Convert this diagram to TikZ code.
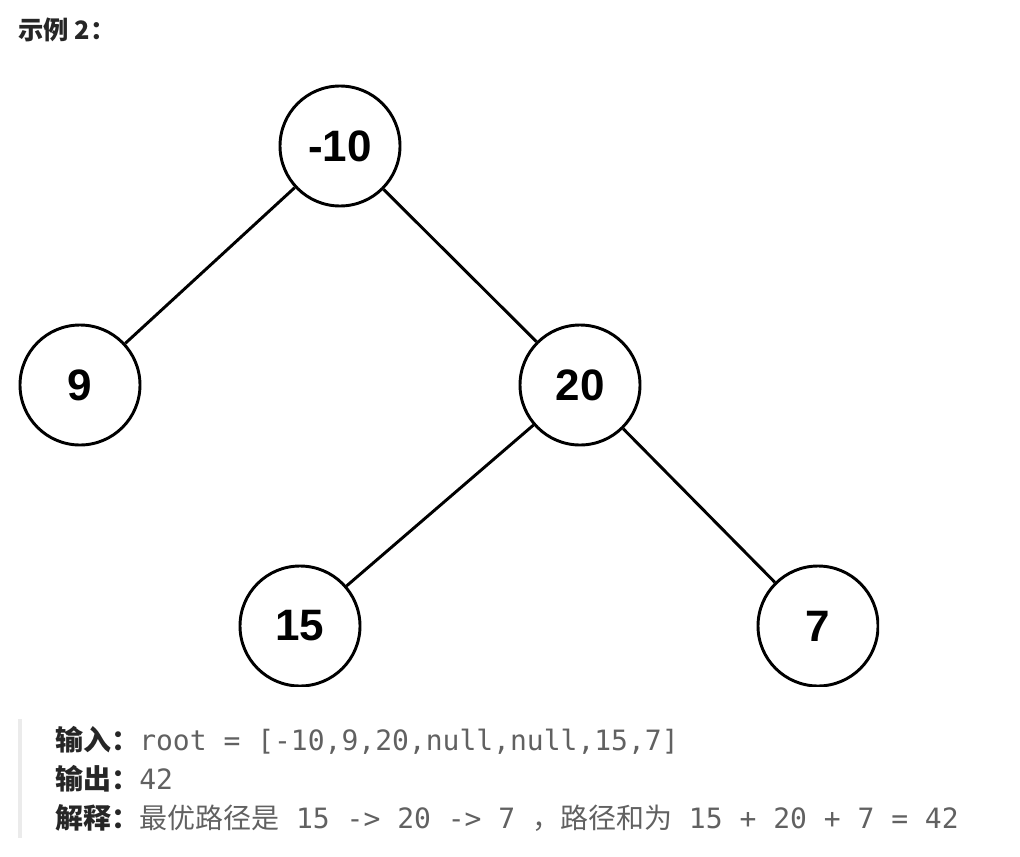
\documentclass[tikz,border=0pt]{standalone}
\usepackage{fontspec}
\setmainfont{Liberation Sans}
\newfontfamily\cjk{Noto Sans CJK SC}
\newfontfamily\monof{DejaVu Sans Mono}
\definecolor{lab}{HTML}{262626}
\definecolor{txt}{HTML}{616161}
\definecolor{bar}{HTML}{EBEBEB}
\begin{document}
\begin{tikzpicture}[x=0.75pt,y=-0.75pt,
  tn/.style={circle,draw=black,line width=2.2pt,minimum size=90pt,inner sep=0pt,
    font=\fontsize{33}{36}\selectfont\bfseries},
  edge/.style={draw=black,line width=2.2pt},
  txtline/.style={anchor=base west,inner sep=0pt,font=\fontsize{21}{24}\selectfont}]
\useasboundingbox (0,0) rectangle (1020,856);
\node[anchor=base west,inner sep=0pt,text=lab,font=\fontsize{19}{22}\selectfont] (title) at (18,40) {\cjk\bfseries 示例 2：};
\begin{scope}
\clip (0,0) rectangle (879,686);
\node[tn] (r) at (340,146) {-10};
\node[tn] (n9) at (80,385) {9};
\node[tn] (n20) at (580,385) {20};
\node[tn] (n15) at (300,626) {15};
\node[tn] (n7) at (818,626) {7};
\draw[edge] (r) -- (n9);
\draw[edge] (r) -- (n20);
\draw[edge] (n20) -- (n15);
\draw[edge] (n20) -- (n7);
\end{scope}
\fill[bar] (18,719) rectangle (22,838);
\node[txtline] (l1) at (55,750) {\textcolor{lab}{\cjk\bfseries 输入：}\textcolor{txt}{\monof root = [-10,9,20,null,null,15,7]}};
\node[txtline] (l2) at (55,789) {\textcolor{lab}{\cjk\bfseries 输出：}\textcolor{txt}{\monof 42}};
\node[txtline] (l3) at (55,828) {\textcolor{lab}{\cjk\bfseries 解释：}\textcolor{txt}{\cjk 最优路径是}\textcolor{txt}{\monof\ 15 -> 20 -> 7 }\textcolor{txt}{\cjk ，路径和为}\textcolor{txt}{\monof\ 15 + 20 + 7 = 42}};
\end{tikzpicture}
\end{document}
